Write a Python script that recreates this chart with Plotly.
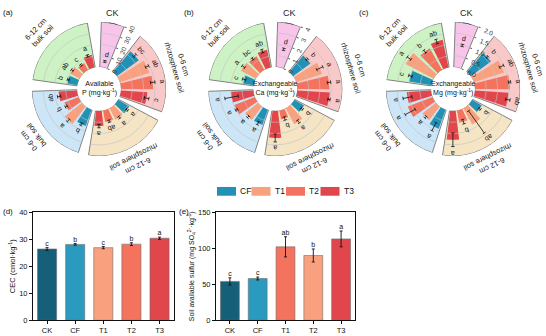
import math
import plotly.graph_objects as go

W, H = 546, 336

# ---------------- data ----------------
treatments = ["CF", "T1", "T2", "T3"]
zones = ["0-6 cm<br>rhizosphere soil", "6-12 cm<br>rhizosphere soil",
         "0-6 cm<br>bulk soil", "6-12 cm<br>bulk soil"]

# (a) Available P (mg/kg)
p_ck, p_ck_err, p_ck_lab = 5.5, 0.8, "d"
p_vals = [[24.0, 27.5, 28.5, 23.5], [11.5, 11.5, 10.5, 13.5],
          [15.5, 19.5, 13.5, 16.5], [9.0, 9.5, 7.0, 11.5]]
p_errs = [[1.5, 1.5, 2.0, 2.0], [1.0, 1.0, 1.0, 1.5],
          [1.2, 1.5, 1.0, 1.5], [0.8, 1.0, 0.8, 1.0]]
p_labs = [["bc", "ab", "a", "c"], ["a", "a", "ab", "a"],
          ["b", "a", "b", "ab"], ["b", "ab", "c", "a"]]
p_ticks = [0, 10, 20, 30, 40]
p_ticktext = ["0", "10", "20", "30", "40"]

# (b) Exchangeable Ca (mg/kg)
ca_ck, ca_ck_err, ca_ck_lab = 1.65, 0.1, "d"
ca_vals = [[1.9, 2.4, 2.85, 2.9], [1.0, 1.6, 0.8, 2.4],
           [1.45, 1.5, 1.95, 2.0], [0.95, 1.5, 1.4, 1.6]]
ca_errs = [[0.1, 0.3, 0.15, 0.1], [0.1, 0.15, 0.15, 0.35],
           [0.15, 0.1, 0.1, 0.6], [0.15, 0.15, 0.1, 0.15]]
ca_labs = [["b", "a", "a", "a"], ["b", "a", "b", "a"],
           ["a", "a", "a", "a"], ["c", "a", "bc", "ab"]]
ca_ticks = [0, 1, 2, 3, 4]
ca_ticktext = ["0", "1", "2", "3", "4"]

# (c) Exchangeable Mg (mg/kg)
mg_ck, mg_ck_err, mg_ck_lab = 1.0, 0.05, "d"
mg_vals = [[1.1, 1.4, 1.55, 1.5], [0.5, 0.82, 0.55, 1.28],
           [0.9, 0.77, 1.18, 1.08], [1.0, 1.4, 1.1, 1.25]]
mg_errs = [[0.05, 0.1, 0.05, 0.1], [0.05, 0.6, 0.1, 0.3],
           [0.2, 0.05, 0.25, 0.2], [0.08, 0.1, 0.08, 0.1]]
mg_labs = [["b", "ab", "a", "ab"], ["b", "ab", "b", "a"],
           ["a", "a", "a", "a"], ["c", "a", "b", "ab"]]
mg_ticks = [0, 0.5, 1.0, 1.5, 2.0]
mg_ticktext = ["0.0", "0.5", "1.0", "1.5", "2.0"]

# (d) CEC, (e) available sulfur
bar_cats = ["CK", "CF", "T1", "T2", "T3"]
cec_vals = [26.4, 28.1, 26.9, 28.2, 30.4]
cec_errs = [0.5, 0.3, 0.4, 0.5, 0.4]
cec_labs = ["c", "b", "c", "b", "a"]
s_vals = [54.0, 58.0, 102.0, 90.0, 113.0]
s_errs = [5.0, 2.0, 14.0, 9.0, 11.0]
s_labs = ["c", "c", "ab", "b", "a"]

# ---------------- styles / layout constants ----------------
FONT = "Arial, Liberation Sans, sans-serif"
R, HOLE = 69.0, 22.5
CK_SPAN = (2.0, 22.0)
ZONE_SPANS = [(38.0, 110.0), (118.0, 189.0), (198.0, 268.0), (278.0, 350.0)]
wedge_ck_color = "#f8c4ea"
wedge_colors = ["#f9c9c9", "#f6e5c4", "#cce6f7", "#cdf3c5"]
trt_colors = ["#2191b5", "#f9a07e", "#f4735f", "#e0464c"]
ck_color = "#135e78"
bar5_colors_d = ["#155f78", "#2b9abf", "#f9a07e", "#f4735f", "#e0464c"]
bar5_colors_e = ["#155f78", "#2b9abf", "#f4735f", "#f9a07e", "#e0464c"]

panels = [
    dict(sub="polar", cx=99.0, cy=87.3, title="Available<br>P (mg·kg<sup>-1</sup>)",
         ck=(p_ck, p_ck_err, p_ck_lab), vals=p_vals, errs=p_errs, labs=p_labs,
         ticks=p_ticks, ticktext=p_ticktext, tag="(a)", tagx=1),
    dict(sub="polar2", cx=275.3, cy=87.3, title="Exchangeable<br>Ca (mg·kg<sup>-1</sup>)",
         ck=(ca_ck, ca_ck_err, ca_ck_lab), vals=ca_vals, errs=ca_errs, labs=ca_labs,
         ticks=ca_ticks, ticktext=ca_ticktext, tag="(b)", tagx=182),
    dict(sub="polar3", cx=453.0, cy=87.3, title="Exchangeable<br>Mg (mg·kg<sup>-1</sup>)",
         ck=(mg_ck, mg_ck_err, mg_ck_lab), vals=mg_vals, errs=mg_errs, labs=mg_labs,
         ticks=mg_ticks, ticktext=mg_ticktext, tag="(c)", tagx=357),
]

fig = go.Figure()
annotations = []
shapes = []


def paper_xy(cx, cy, rp, th):
    t = math.radians(th)
    x = cx + rp * math.sin(t)
    y = cy - rp * math.cos(t)
    return x / W, 1 - y / H


def tangle(th):
    a = th % 360
    if a > 180:
        a -= 360
    return a


for pn in panels:
    sub = pn["sub"]
    rmax = pn["ticks"][-1]

    def rpx(v):
        return HOLE + v / rmax * (R - HOLE)

    spans = [CK_SPAN] + ZONE_SPANS
    cols = [wedge_ck_color] + wedge_colors
    # background wedges
    fig.add_trace(go.Barpolar(
        r=[rmax] * 5, theta=[(a + b) / 2 for a, b in spans],
        width=[b - a for a, b in spans],
        marker=dict(color=cols, line=dict(color="#808080", width=1)),
        subplot=sub, showlegend=False, hoverinfo="skip"))
    # grid arcs inside wedges
    gth, gr = [], []
    for a, b in spans:
        for tv in pn["ticks"][1:-1]:
            n = int((b - a) / 1.0) + 1
            for k in range(n + 1):
                gth.append(a + (b - a) * k / n)
                gr.append(tv)
            gth.append(None)
            gr.append(None)
    fig.add_trace(go.Scatterpolar(
        r=gr, theta=gth, mode="lines", line=dict(color="#c4c4c4", width=0.7),
        subplot=sub, showlegend=False, hoverinfo="skip"))
    # treatment bars
    ebr, ebt = [], []
    bar_info = []
    for i, trt in enumerate(treatments):
        th_list, r_list, w_list = [], [], []
        for z, (a, b) in enumerate(ZONE_SPANS):
            slot = (b - a) / 4
            th = a + (i + 0.5) * slot
            th_list.append(th)
            r_list.append(pn["vals"][z][i])
            w_list.append(slot * 0.8)
            bar_info.append((th, pn["vals"][z][i], pn["errs"][z][i], pn["labs"][z][i]))
        fig.add_trace(go.Barpolar(
            r=r_list, theta=th_list, width=w_list,
            marker=dict(color=trt_colors[i], line=dict(width=0)),
            subplot=sub, showlegend=False, name=trt))
    ckv, cke, ckl = pn["ck"]
    ck_th = (CK_SPAN[0] + CK_SPAN[1]) / 2
    fig.add_trace(go.Barpolar(
        r=[ckv], theta=[ck_th], width=[7],
        marker=dict(color=ck_color, line=dict(color="#0b3a4a", width=0.8)),
        subplot=sub, showlegend=False, name="CK"))
    bar_info.append((ck_th, ckv, cke, ckl))
    # error bars + letters
    for th, v, e, lab in bar_info:
        lo, hi = max(v - e, 0), v + e
        ebt += [th, th, None]
        ebr += [lo, hi, None]
        for rr in (lo, hi):
            d = math.degrees(1.8 / rpx(rr))
            ebt += [th - d, th + d, None]
            ebr += [rr, rr, None]
        x, y = paper_xy(pn["cx"], pn["cy"], rpx(hi) + 6.5, th)
        annotations.append(dict(x=x, y=y, xref="paper", yref="paper", text=lab,
                                showarrow=False, textangle=tangle(th),
                                font=dict(size=7, color="#111", family=FONT),
                                xanchor="center", yanchor="middle"))
    fig.add_trace(go.Scatterpolar(
        r=ebr, theta=ebt, mode="lines", line=dict(color="#111", width=0.8),
        subplot=sub, showlegend=False, hoverinfo="skip"))

    # polar layout
    dom_x = [(pn["cx"] - R) / W, (pn["cx"] + R) / W]
    dom_y = [1 - (pn["cy"] + R) / H, 1 - (pn["cy"] - R) / H]
    fig.update_layout(**{sub: dict(
        domain=dict(x=dom_x, y=dom_y), hole=HOLE / R, bgcolor="rgba(0,0,0,0)",
        angularaxis=dict(visible=False, rotation=90, direction="clockwise"),
        radialaxis=dict(range=[0, rmax], tickvals=pn["ticks"], ticktext=pn["ticktext"],
                        angle=90 - CK_SPAN[1], showgrid=False, showline=False,
                        ticks="outside", ticklen=2, tickcolor="#444",
                        tickfont=dict(size=6.5, color="#333", family=FONT)),
    )})

    # sector labels
    x, y = paper_xy(pn["cx"], pn["cy"], R + 10, ck_th - 2)
    annotations.append(dict(x=x, y=y, xref="paper", yref="paper", text="CK",
                            showarrow=False, font=dict(size=9, color="#222", family=FONT),
                            xanchor="center", yanchor="middle"))
    for z, (a, b) in enumerate(ZONE_SPANS):
        th = (a + b) / 2
        x, y = paper_xy(pn["cx"], pn["cy"], R + 14, th)
        annotations.append(dict(x=x, y=y, xref="paper", yref="paper", text=zones[z],
                                showarrow=False, textangle=tangle(th),
                                font=dict(size=7.5, color="#111", family=FONT),
                                xanchor="center", yanchor="middle"))
    # hole title
    annotations.append(dict(x=pn["cx"] / W, y=1 - pn["cy"] / H, xref="paper", yref="paper",
                            text=pn["title"], showarrow=False,
                            font=dict(size=7, color="#111", family=FONT),
                            xanchor="center", yanchor="middle"))
    annotations.append(dict(x=pn["tagx"] / W, y=1 - 2 / H, xref="paper", yref="paper",
                            text=pn["tag"], showarrow=False, xanchor="left", yanchor="top",
                            font=dict(size=8, color="#111", family=FONT)))

# ---------------- legend (manual) ----------------
for i, trt in enumerate(treatments):
    x0 = 217 + i * 34.5
    shapes.append(dict(type="rect", xref="paper", yref="paper",
                       x0=x0 / W, x1=(x0 + 19) / W, y0=1 - 197 / H, y1=1 - 188 / H,
                       fillcolor=trt_colors[i], line=dict(width=0)))
    annotations.append(dict(x=(x0 + 21) / W, y=1 - 192.5 / H, xref="paper", yref="paper",
                            text=trt, showarrow=False, xanchor="left", yanchor="middle",
                            font=dict(size=8.5, color="#111", family=FONT)))

# ---------------- bar panels ----------------
fig.add_trace(go.Bar(x=bar_cats, y=cec_vals, width=0.68,
                     marker=dict(color=bar5_colors_d, line=dict(color="#6e6e6e", width=0.6)),
                     error_y=dict(type="data", array=cec_errs, color="#111", thickness=0.9, width=1.5),
                     xaxis="x", yaxis="y", showlegend=False))
fig.add_trace(go.Scatter(x=bar_cats, y=[v + e for v, e in zip(cec_vals, cec_errs)],
                         text=cec_labs, mode="text", textposition="top center",
                         textfont=dict(size=7, color="#111", family=FONT),
                         xaxis="x", yaxis="y", showlegend=False, hoverinfo="skip"))
fig.add_trace(go.Bar(x=bar_cats, y=s_vals, width=0.68,
                     marker=dict(color=bar5_colors_e, line=dict(color="#6e6e6e", width=0.6)),
                     error_y=dict(type="data", array=s_errs, color="#111", thickness=0.9, width=1.5),
                     xaxis="x2", yaxis="y2", showlegend=False))
fig.add_trace(go.Scatter(x=bar_cats, y=[v + e for v, e in zip(s_vals, s_errs)],
                         text=s_labs, mode="text", textposition="top center",
                         textfont=dict(size=7, color="#111", family=FONT),
                         xaxis="x2", yaxis="y2", showlegend=False, hoverinfo="skip"))

axis_common = dict(showline=True, linecolor="#111", linewidth=1, mirror=True,
                   ticks="outside", ticklen=3, tickcolor="#111", showgrid=False,
                   zeroline=False, tickfont=dict(size=7.5, color="#111", family=FONT))
fig.update_layout(
    xaxis=dict(domain=[33 / W, 173.6 / W], range=[-0.5, 4.5], anchor="y", **axis_common),
    yaxis=dict(domain=[11 / H, 122 / H], range=[0, 40], dtick=10, anchor="x",
               title=dict(text="CEC (cmol·kg<sup>-1</sup>)", standoff=2,
                          font=dict(size=7.5, color="#111", family=FONT)), **axis_common),
    xaxis2=dict(domain=[216 / W, 355 / W], range=[-0.5, 4.5], anchor="y2", **axis_common),
    yaxis2=dict(domain=[11 / H, 122 / H], range=[0, 150], dtick=50, anchor="x2",
                title=dict(text="Soil available sulfur (mg SO<sub>4</sub><sup>2-</sup>·kg<sup>-1</sup>)",
                           standoff=2, font=dict(size=7, color="#111", family=FONT)),
                **axis_common),
)
annotations.append(dict(x=1 / W, y=1 - 207 / H, xref="paper", yref="paper", text="(d)",
                        showarrow=False, xanchor="left", yanchor="top",
                        font=dict(size=8, color="#111", family=FONT)))
annotations.append(dict(x=177 / W, y=1 - 207 / H, xref="paper", yref="paper", text="(e)",
                        showarrow=False, xanchor="left", yanchor="top",
                        font=dict(size=8, color="#111", family=FONT)))

fig.update_layout(width=W, height=H, margin=dict(l=0, r=0, t=0, b=0),
                  paper_bgcolor="white", plot_bgcolor="white",
                  font=dict(family=FONT, color="#111"),
                  annotations=annotations, shapes=shapes, showlegend=False)

fig.write_html("out.html")
